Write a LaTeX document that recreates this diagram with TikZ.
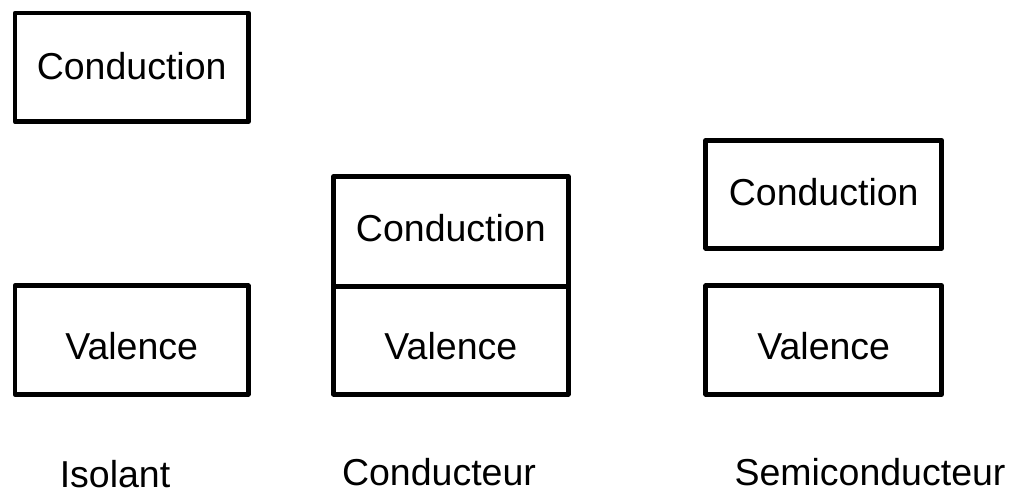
\documentclass[tikz,border=0pt]{standalone}
\usepackage{fontspec}
\setmainfont{Liberation Sans}
\begin{document}
\begin{tikzpicture}[x=1pt,y=-1pt,
  band/.style={draw=black, line width=4.6pt, line join=round, fill=none,
               inner sep=0pt, outer sep=0pt},
  word/.style={anchor=base, inner sep=0pt, font=\fontsize{37.5}{45}\selectfont}]
  \useasboundingbox (0,0) rectangle (1014,489);

  % Isolant: wide gap between the bands
  \node[band, minimum width=233.3pt, minimum height=108.7pt] (isoC) at (131.65,67.35) {};
  \node[band, minimum width=233.3pt, minimum height=108.6pt] (isoV) at (131.65,340) {};
  \node[word] (isoCt) at (131.65,80) {Conduction};
  \node[word] (isoVt) at (131.65,359.3) {Valence};
  \node[word] (isoL) at (115,487) {Isolant};

  % Conducteur: the bands touch
  \node[band, minimum width=234.7pt, minimum height=110pt] (conC) at (450.85,231.3) {};
  \node[band, minimum width=234.7pt, minimum height=107.9pt] (conV) at (450.85,340.25) {};
  \node[word] (conCt) at (450.85,241.7) {Conduction};
  \node[word] (conVt) at (450.85,359.3) {Valence};
  \node[word] (conL) at (439,485) {Conducteur};

  % Semiconducteur: narrow gap
  \node[band, minimum width=236pt, minimum height=108pt] (semC) at (823.7,194.3) {};
  \node[band, minimum width=236pt, minimum height=108.6pt] (semV) at (823.7,340) {};
  \node[word] (semCt) at (823.7,205) {Conduction};
  \node[word] (semVt) at (823.7,359.3) {Valence};
  \node[word] (semL) at (870,485) {Semiconducteur};
\end{tikzpicture}
\end{document}
